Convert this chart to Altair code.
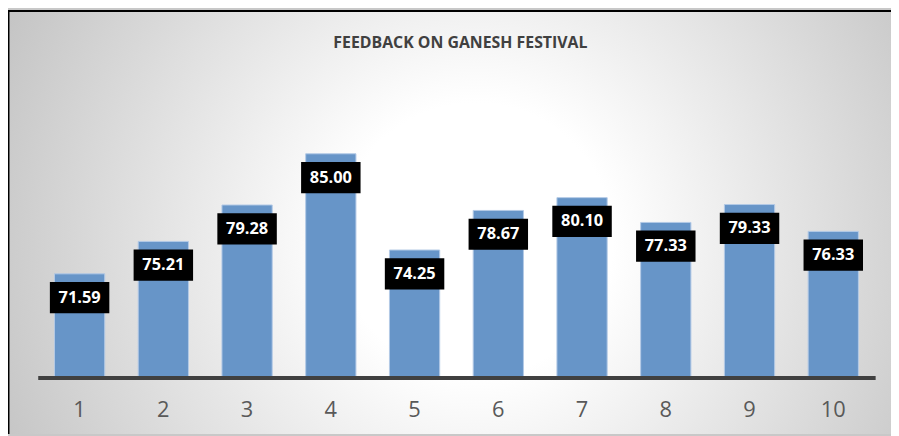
import altair as alt
import pandas as pd

categories = ["1", "2", "3", "4", "5", "6", "7", "8", "9", "10"]
scores = [71.59, 75.21, 79.28, 85.00, 74.25, 78.67, 80.10, 77.33, 79.33, 76.33]
title_text = "FEEDBACK ON GANESH FESTIVAL"

df = pd.DataFrame({"cat": categories, "score": scores})

W, H = 845, 271
PAD = {"left": 30, "top": 100, "right": 16, "bottom": 57}
FONT = "Open Sans"

x_enc = alt.X(
    "cat:N",
    sort=categories,
    scale=alt.Scale(paddingInner=0.4, paddingOuter=0.2),
    axis=alt.Axis(
        title=None, labelAngle=0, labelFont=FONT, labelFontSize=22,
        labelColor="#595959", labelPadding=22, ticks=False,
        domainColor="#404040", domainWidth=4, grid=False, zindex=2,
    ),
)
y_enc = alt.Y("score:Q", scale=alt.Scale(domain=[60, 90], zero=False, nice=False), axis=None)

gradient = alt.RadialGradient(
    gradient="radial",
    stops=[
        alt.GradientStop(color="#ffffff", offset=0),
        alt.GradientStop(color="#ffffff", offset=0.25),
        alt.GradientStop(color="#c0c0c0", offset=1),
    ],
    x1=0.53, y1=0.52, x2=0.53, y2=0.52, r1=0, r2=0.62,
)

frame = pd.DataFrame({"t": [title_text]})
bg = alt.Chart(frame).mark_rect(fill=gradient).encode(
    x=alt.value(-30), x2=alt.value(861), y=alt.value(-100), y2=alt.value(328)
)
top_border = alt.Chart(frame).mark_rule(color="black", strokeWidth=2).encode(
    x=alt.value(-30), x2=alt.value(861), y=alt.value(-99)
)
left_border = alt.Chart(frame).mark_rule(color="black", strokeWidth=2).encode(
    x=alt.value(-29.5), y=alt.value(-100), y2=alt.value(328)
)
title = alt.Chart(frame).mark_text(
    font=FONT, fontSize=16, fontWeight="bold", color="#404040", baseline="middle", align="center"
).encode(x=alt.value(W / 2 + 4), y=alt.value(-67), text="t:N")

base = alt.Chart(df)
bars = base.mark_bar(color="#6795c8", stroke="#b3c9e6", strokeWidth=1).encode(
    x=x_enc, y=y_enc, y2=alt.datum(60)
)
boxes = base.mark_point(
    shape="M-1,-0.525L1,-0.525L1,0.525L-1,0.525Z", size=60 * 60, filled=True,
    fill="black", opacity=1, strokeWidth=0, yOffset=24,
).encode(x=x_enc, y=y_enc)
labels = base.mark_text(
    font=FONT, fontSize=16.5, fontWeight="bold", color="white", baseline="middle", yOffset=24
).encode(x=x_enc, y=y_enc, text=alt.Text("score:Q", format=".2f"))

chart = (
    alt.layer(bg, top_border, left_border, title, bars, boxes, labels)
    .properties(
        width=W, height=H,
        padding=PAD,
        autosize=alt.AutoSizeParams(type="none"),
    )
    .configure_view(stroke=None)
    .configure(background="#c8c8c8")
)

chart.save("out.html", embed_options={"renderer": "svg", "actions": False})
